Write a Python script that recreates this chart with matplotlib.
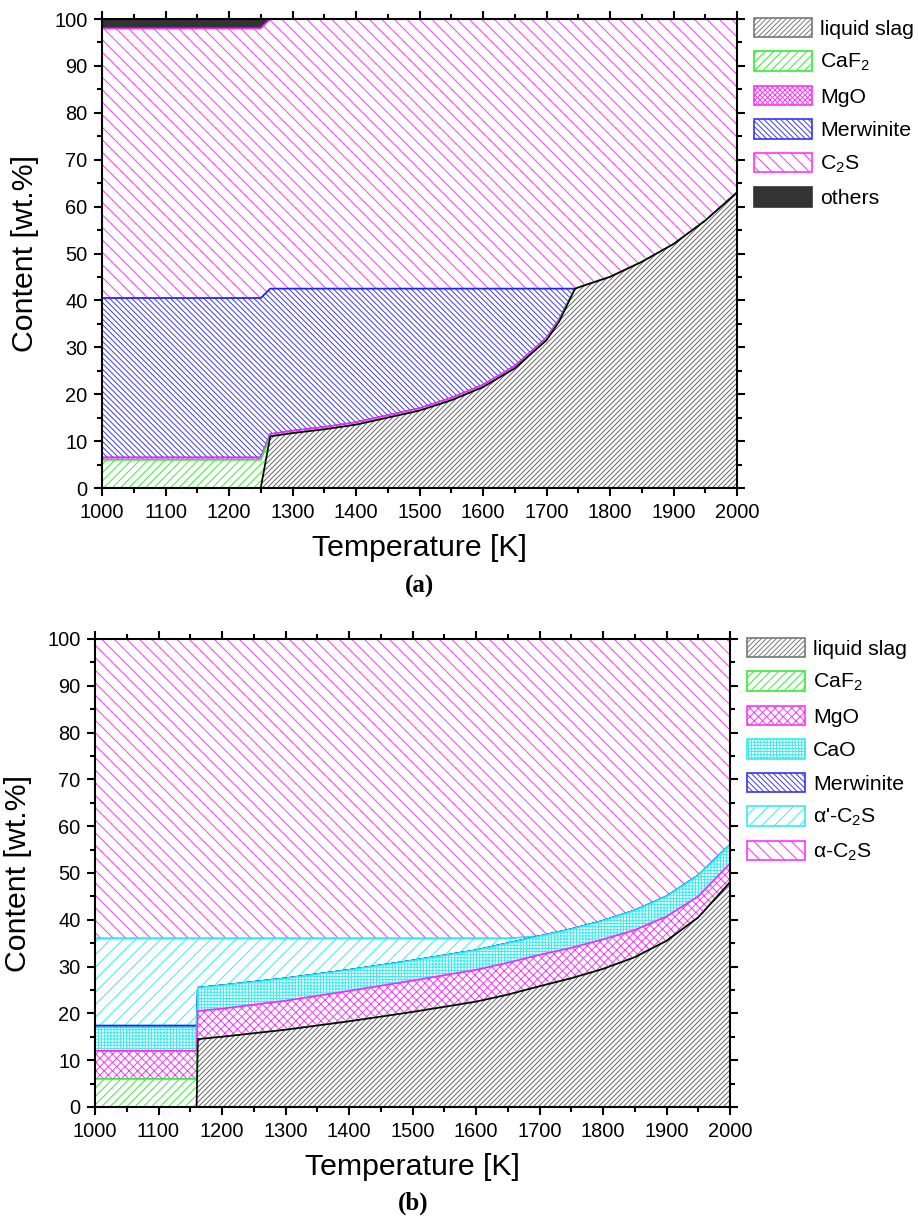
import numpy as np
import matplotlib.pyplot as plt
from matplotlib.patches import Patch
from matplotlib.ticker import MultipleLocator

plt.rcParams['font.family'] = 'Liberation Sans'
plt.rcParams['mathtext.fontset'] = 'custom'
plt.rcParams['mathtext.rm'] = 'Liberation Sans'
plt.rcParams['mathtext.it'] = 'Liberation Sans:italic'
plt.rcParams['hatch.linewidth'] = 0.45

# (a) phase amounts vs temperature, wt.%
T_a = [1000, 1250, 1265, 1300, 1350, 1400, 1450, 1500, 1550, 1600,
       1650, 1700, 1720, 1745, 1760, 1800, 1850, 1900, 1950, 2000]
slag_a = [0, 0, 11.0, 11.7, 12.5, 13.5, 15.0, 16.5, 18.7, 21.5,
          25.5, 31.5, 35.5, 42.5, 43.2, 45.0, 48.2, 52.0, 57.0, 63.0]
caf2_a = [6.0, 6.0, 0, 0, 0, 0, 0, 0, 0, 0,
          0, 0, 0, 0, 0, 0, 0, 0, 0, 0]
mgo_a = [0.5, 0.5, 0.5, 0.5, 0.5, 0.5, 0.5, 0.5, 0.5, 0.5,
         0.5, 0.5, 0.5, 0, 0, 0, 0, 0, 0, 0]
merw_a = [34.0, 34.0, 31.0, 30.3, 29.5, 28.5, 27.0, 25.5, 23.3, 20.5,
          16.5, 10.5, 6.5, 0, 0, 0, 0, 0, 0, 0]
c2s_a = [57.5, 57.5, 57.5, 57.5, 57.5, 57.5, 57.5, 57.5, 57.5, 57.5,
         57.5, 57.5, 57.5, 57.5, 56.8, 55.0, 51.8, 48.0, 43.0, 37.0]
others_a = [2.0, 2.0, 0, 0, 0, 0, 0, 0, 0, 0,
            0, 0, 0, 0, 0, 0, 0, 0, 0, 0]

# (b)
T_b = [1000, 1160, 1162, 1200, 1300, 1400, 1500, 1600,
       1650, 1700, 1750, 1800, 1850, 1900, 1950, 2000]
slag_b = [0, 0, 14.5, 15.0, 16.5, 18.3, 20.3, 22.5,
          24.0, 25.8, 27.5, 29.5, 32.0, 35.5, 40.5, 48.0]
caf2_b = [6.0, 6.0, 0, 0, 0, 0, 0, 0,
          0, 0, 0, 0, 0, 0, 0, 0]
mgo_b = [6.0, 6.0, 6.0, 6.0, 6.2, 6.5, 6.7, 6.8,
         6.8, 6.7, 6.5, 6.3, 5.8, 5.2, 4.5, 4.0]
cao_b = [5.0, 5.0, 5.0, 5.0, 4.8, 4.5, 4.3, 4.2,
         4.2, 4.0, 4.0, 4.0, 4.2, 4.3, 4.5, 4.0]
merw_b = [0.4, 0.4, 0, 0, 0, 0, 0, 0,
          0, 0, 0, 0, 0, 0, 0, 0]
ac2s1_b = [18.6, 18.6, 10.5, 10.0, 8.5, 6.7, 4.7, 2.5,
           1.0, 0, 0, 0, 0, 0, 0, 0]
ac2s_b = [64.0, 64.0, 64.0, 64.0, 64.0, 64.0, 64.0, 64.0,
          64.0, 63.5, 62.0, 60.2, 58.0, 55.0, 50.5, 44.0]

# key: hatch colour, outline colour, hatch pattern, face
styles = {
    'liquid slag': ('#606060', 'black', '/' * 10, 'white'),
    'CaF2': ('#33ee33', '#33ee33', '/' * 6, 'white'),
    'MgO_a': ('#ff33ff', '#ff22ff', 'x' * 10, 'white'),
    'MgO_b': ('#ff33ff', '#ff22ff', 'x' * 6, 'white'),
    'CaO': ('#33eeee', '#22eeee', '+' * 8, 'white'),
    'Merwinite': ('#3333ff', '#2222ff', '\\' * 9, 'white'),
    'C2S': ('#ff33ff', '#ff22ff', '\\' * 4, 'white'),
    'a1C2S': ('#33eeee', '#22eeee', '/' * 4, 'white'),
    'others': ('#333333', '#333333', None, '#333333'),
}


def draw_stack(ax, T, layers):
    T = np.array(T, dtype=float)
    amounts = [np.array(v, dtype=float) for _, v in layers]
    tops = np.cumsum(amounts, axis=0)
    bottoms = np.vstack([np.zeros_like(T), tops[:-1]])
    # top layers first so each lower boundary line stays visible
    for i in range(len(layers) - 1, -1, -1):
        hcol, lcol, hatch, face = styles[layers[i][0]]
        ax.fill_between(T, bottoms[i], tops[i], facecolor=face,
                        edgecolor=hcol, hatch=hatch, linewidth=0)
        ax.fill_between(T, bottoms[i], tops[i], facecolor='none',
                        edgecolor=lcol, linewidth=0.8)


def style_axes(ax):
    ax.set_xlim(1000, 2000)
    ax.set_ylim(0, 100)
    ax.xaxis.set_major_locator(MultipleLocator(100))
    ax.xaxis.set_minor_locator(MultipleLocator(50))
    ax.yaxis.set_major_locator(MultipleLocator(10))
    ax.yaxis.set_minor_locator(MultipleLocator(5))
    ax.tick_params(which='both', direction='out', top=True, right=True,
                   width=1.0, labelsize=9.6, pad=3)
    ax.tick_params(which='major', length=4)
    ax.tick_params(which='minor', length=2.2)
    for s in ax.spines.values():
        s.set_linewidth(1.0)
        s.set_zorder(5)
    ax.set_xlabel('Temperature [K]', fontsize=14.5, labelpad=6)
    ax.set_ylabel('Content [wt.%]', fontsize=14.5, labelpad=7)


def make_legend(ax, entries):
    handles = []
    for label, key in entries:
        hcol, lcol, hatch, face = styles[key]
        if key == 'liquid slag':
            hcol = '#777777'
        handles.append(Patch(facecolor=face, edgecolor=hcol, hatch=hatch,
                             linewidth=0.8, label=label))
    ax.legend(handles=handles, loc='upper left',
              bbox_to_anchor=(1 + 17 / 635, 1.003), frameon=False,
              fontsize=10.2, handlelength=2.75, handleheight=1.05,
              handletextpad=0.35, labelspacing=0.58, borderpad=0,
              borderaxespad=0)


fig = plt.figure(figsize=(918 / 150, 1219 / 150), dpi=150)
ax_a = fig.add_axes([102 / 918, 1 - 488 / 1219, 635 / 918, 469 / 1219])
ax_b = fig.add_axes([95 / 918, 1 - 1107 / 1219, 635 / 918, 468 / 1219])

draw_stack(ax_a, T_a, [('liquid slag', slag_a), ('CaF2', caf2_a),
                       ('MgO_a', mgo_a), ('Merwinite', merw_a),
                       ('C2S', c2s_a), ('others', others_a)])
style_axes(ax_a)
make_legend(ax_a, [('liquid slag', 'liquid slag'), ('CaF$_2$', 'CaF2'),
                   ('MgO', 'MgO_a'), ('Merwinite', 'Merwinite'),
                   ('C$_2$S', 'C2S'), ('others', 'others')])

draw_stack(ax_b, T_b, [('liquid slag', slag_b), ('CaF2', caf2_b),
                       ('MgO_b', mgo_b), ('CaO', cao_b),
                       ('Merwinite', merw_b), ('a1C2S', ac2s1_b),
                       ('C2S', ac2s_b)])
style_axes(ax_b)
make_legend(ax_b, [('liquid slag', 'liquid slag'), ('CaF$_2$', 'CaF2'),
                   ('MgO', 'MgO_b'), ('CaO', 'CaO'),
                   ('Merwinite', 'Merwinite'), ("α'-C$_2$S", 'a1C2S'),
                   ('α-C$_2$S', 'C2S')])

fig.text(419 / 918, 1 - 586 / 1219, '(a)', ha='center', va='center',
         fontsize=12, fontweight='bold', family='Liberation Serif')
fig.text(413 / 918, 1 - 1203 / 1219, '(b)', ha='center', va='center',
         fontsize=12, fontweight='bold', family='Liberation Serif')

fig.savefig('out.png', dpi=150, facecolor='white')
